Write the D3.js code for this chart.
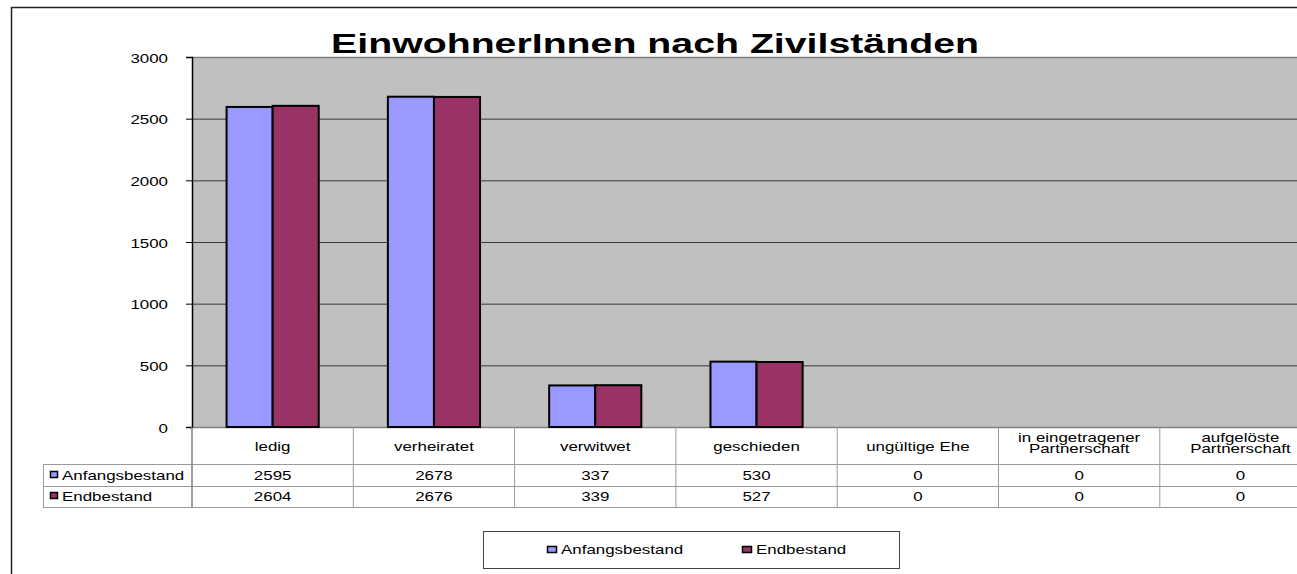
<!DOCTYPE html>
<html lang="de">
<head>
<meta charset="utf-8">
<script src="https://cdn.jsdelivr.net/npm/d3@7/dist/d3.min.js"></script>
<style>
  body { margin: 0; background: #fff; }
  text { font-family: "Liberation Sans", Arial, sans-serif; fill: #000; }
</style>
<title>EinwohnerInnen nach Zivilständen</title>
</head>
<body>
<script>
// data
var categories = ["ledig", "verheiratet", "verwitwet", "geschieden", "ungültige Ehe",
                  "in eingetragener\nPartnerschaft", "aufgelöste\nPartnerschaft"];
var seriesNames = ["Anfangsbestand", "Endbestand"];
var anfangsbestand = [2595, 2678, 337, 530, 0, 0, 0];
var endbestand = [2604, 2676, 339, 527, 0, 0, 0];
var yTicks = [0, 500, 1000, 1500, 2000, 2500, 3000];
var colors = ["#9999ff", "#993366"];

var w = 1297, h = 574;
var SX = 1.41; // picture is stretched horizontally
var svg = d3.select("body").append("svg").attr("width", w).attr("height", h);

var plotLeft = 192, plotTop = 57, plotBottom = 427;
var colW = 161.3;

var x = d3.scaleBand().domain(categories).range([plotLeft, plotLeft + colW * categories.length]).padding(0);
var x1 = d3.scaleBand().domain(seriesNames).range([0, x.bandwidth()]).paddingInner(0).paddingOuter(0.75);
var y = d3.scaleLinear().domain([0, 3000]).range([plotBottom, plotTop]);

function stext(g, px, py, str, size, anchor, weight, sx) {
  return g.append("text")
    .attr("transform", "translate(" + px + "," + py + ") scale(" + (sx || SX) + ",1)")
    .attr("text-anchor", anchor || "middle")
    .style("font-size", size + "px")
    .style("font-weight", weight || "normal")
    .text(str);
}

// outer frame
svg.append("path").attr("d", "M11.5," + h + "V7.5H" + w)
  .attr("fill", "none").attr("stroke", "#222").attr("stroke-width", 1.5);

// plot area
svg.append("rect").attr("x", plotLeft).attr("y", plotTop).attr("width", w - plotLeft).attr("height", plotBottom - plotTop)
  .attr("fill", "#c0c0c0");

// grid
var grid = svg.append("g").attr("transform", "translate(" + plotLeft + ",0)")
  .call(d3.axisLeft(y).tickValues(yTicks).tickSize(-(w - plotLeft)).tickFormat(""));
grid.select(".domain").remove();
grid.selectAll("line").attr("stroke", "#3a3a3a").attr("stroke-width", 1);
grid.selectAll(".tick").filter(function (d) { return d === 3000 || d === 0; })
  .select("line").attr("stroke", "#808080").attr("stroke-width", 1.5);

// bars
var rows = [anfangsbestand, endbestand];
seriesNames.forEach(function (s, si) {
  svg.append("g").selectAll("rect")
    .data(categories.map(function (c, i) { return { c: c, v: rows[si][i] }; }).filter(function (d) { return d.v > 0; }))
    .enter().append("rect")
    .attr("x", function (d) { return x(d.c) + x1(s); })
    .attr("y", function (d) { return y(d.v); })
    .attr("width", x1.bandwidth())
    .attr("height", function (d) { return y(0) - y(d.v); })
    .attr("fill", colors[si])
    .attr("stroke", "#000").attr("stroke-width", 2);
});

// y axis
var yAx = svg.append("g").attr("transform", "translate(" + plotLeft + ",0)")
  .call(d3.axisLeft(y).tickValues(yTicks).tickSize(6).tickPadding(0).tickFormat(d3.format("d")));
yAx.select(".domain").attr("stroke", "#000").attr("stroke-width", 1.5);
yAx.selectAll("line").attr("stroke", "#000");
yAx.selectAll("text")
  .attr("x", 0).attr("dy", null).attr("y", 0)
  .attr("transform", "translate(-24,5) scale(" + SX + ",1)")
  .attr("fill", "#000")
  .style("font-size", "12px").style("font-family", "Liberation Sans, Arial, sans-serif");

// title
stext(svg, 655, 53, "EinwohnerInnen nach Zivilständen", 27, "middle", "bold", 1.455);

// data table
var tbl = svg.append("g");
var tLeft = 43, r0 = 427, r1 = 464, r2 = 486, r3 = 507;
var lineC = "#9a9a9a";
[r1, r2, r3].forEach(function (ry) {
  tbl.append("line").attr("x1", tLeft).attr("x2", w).attr("y1", ry + 0.5).attr("y2", ry + 0.5)
    .attr("stroke", lineC);
});
tbl.append("line").attr("x1", tLeft + 0.5).attr("x2", tLeft + 0.5).attr("y1", r1).attr("y2", r3).attr("stroke", lineC);
categories.forEach(function (c) {
  var cx = x(c) + x.bandwidth();
  tbl.append("line").attr("x1", cx).attr("x2", cx).attr("y1", r0).attr("y2", r3).attr("stroke", lineC);
});
tbl.append("line").attr("x1", plotLeft).attr("x2", plotLeft).attr("y1", r0).attr("y2", r3).attr("stroke", "#808080").attr("stroke-width", 1.5);

categories.forEach(function (c, i) {
  var cx = x(c) + x.bandwidth() / 2;
  var parts = c.split("\n");
  if (parts.length === 1) {
    stext(tbl, cx, 451, parts[0], 12);
  } else {
    stext(tbl, cx, 442, parts[0], 12);
    stext(tbl, cx, 453, parts[1], 12);
  }
  stext(tbl, cx, 480, anfangsbestand[i], 12);
  stext(tbl, cx, 501, endbestand[i], 12);
});

seriesNames.forEach(function (s, si) {
  var ry = si === 0 ? 480 : 501;
  tbl.append("rect").attr("x", 50.5).attr("y", ry - 8.5).attr("width", 7).attr("height", 6)
    .attr("fill", colors[si]).attr("stroke", "#000").attr("stroke-width", 1.5);
  stext(tbl, 62, ry, s, 12, "start");
});

// legend
var lg = svg.append("g");
lg.append("rect").attr("x", 483.5).attr("y", 531.5).attr("width", 416).attr("height", 37)
  .attr("fill", "#fff").attr("stroke", "#444").attr("stroke-width", 1);
var legX = [547, 742];
seriesNames.forEach(function (s, si) {
  lg.append("rect").attr("x", legX[si] + 0.5).attr("y", 546.5).attr("width", 9).attr("height", 6)
    .attr("fill", colors[si]).attr("stroke", "#000").attr("stroke-width", 1.5);
  stext(lg, legX[si] + 14, 554, s, 12, "start");
});
</script>
</body>
</html>
